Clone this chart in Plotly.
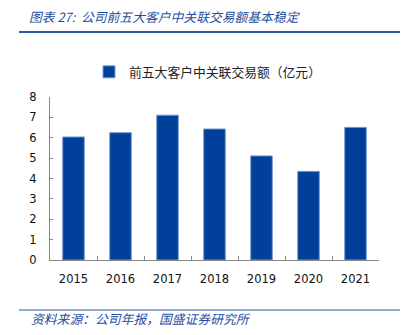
import plotly.graph_objects as go

years = ["2015", "2016", "2017", "2018", "2019", "2020", "2021"]
values = [6.04, 6.25, 7.11, 6.43, 5.11, 4.35, 6.51]
series_name = "前五大客户中关联交易额（亿元）"
title_text = "图表 27:  公司前五大客户中关联交易额基本稳定"
source_text = "资料来源：公司年报，国盛证券研究所"
y_ticks = [0, 1, 2, 3, 4, 5, 6, 7, 8]

W, H = 401, 335
ML, MR, MT, MB = 50, 22, 97, 75
pw = W - ML - MR
ph = H - MT - MB

def px(x):
    return (x - ML) / pw

def py(y):
    return (H - MB - y) / ph

BLUE = "#00409A"
TXT_BLUE = "#1F4E9E"
CJK = "Noto Sans CJK SC"

fig = go.Figure()
fig.add_trace(go.Bar(
    x=years, y=values, name=series_name,
    marker=dict(color=BLUE, line=dict(color="#7C9AD0", width=1)),
    showlegend=True,
))

fig.update_layout(
    width=W, height=H,
    margin=dict(l=ML, r=MR, t=MT, b=MB),
    paper_bgcolor="white", plot_bgcolor="white",
    bargap=0.54,
    showlegend=True,
    legend=dict(orientation="h", x=px(89), xanchor="left", y=py(72), yanchor="middle",
                font=dict(family=CJK, size=12.8, color="#222"),
                bgcolor="rgba(0,0,0,0)", itemclick=False),
    xaxis=dict(
        type="category", showline=True, linecolor="#888", linewidth=1,
        ticks="inside", tickson="boundaries", ticklen=4, tickcolor="#888",
        tickfont=dict(family="DejaVu Sans", size=11.5, color="#111"),
        ticklabelstandoff=8, showgrid=False,
    ),
    yaxis=dict(
        range=[0, 8], tickvals=y_ticks, showline=True, linecolor="#888", linewidth=1,
        ticks="inside", ticklen=3, tickcolor="#888",
        tickfont=dict(family="DejaVu Sans", size=11.5, color="#111"),
        ticklabelstandoff=10, showgrid=False, zeroline=False,
    ),
    shapes=[
        dict(type="line", xref="paper", yref="paper", x0=px(19), x1=px(400), y0=py(32), y1=py(32),
             line=dict(color="#2D5AA6", width=2)),
        dict(type="line", xref="paper", yref="paper", x0=px(19), x1=px(400), y0=py(310), y1=py(310),
             line=dict(color="#2D5AA6", width=1.2)),
    ],
    annotations=[
        dict(text="<i>" + title_text + "</i>", xref="paper", yref="paper", x=px(27), y=py(17),
             xanchor="left", yanchor="middle", showarrow=False,
             font=dict(family=CJK, size=12.8, color=TXT_BLUE)),
        dict(text="<i>" + source_text + "</i>", xref="paper", yref="paper", x=px(29), y=py(318),
             xanchor="left", yanchor="middle", showarrow=False,
             font=dict(family=CJK, size=12.8, color=TXT_BLUE)),
    ],
)

fig.write_html("out.html")
